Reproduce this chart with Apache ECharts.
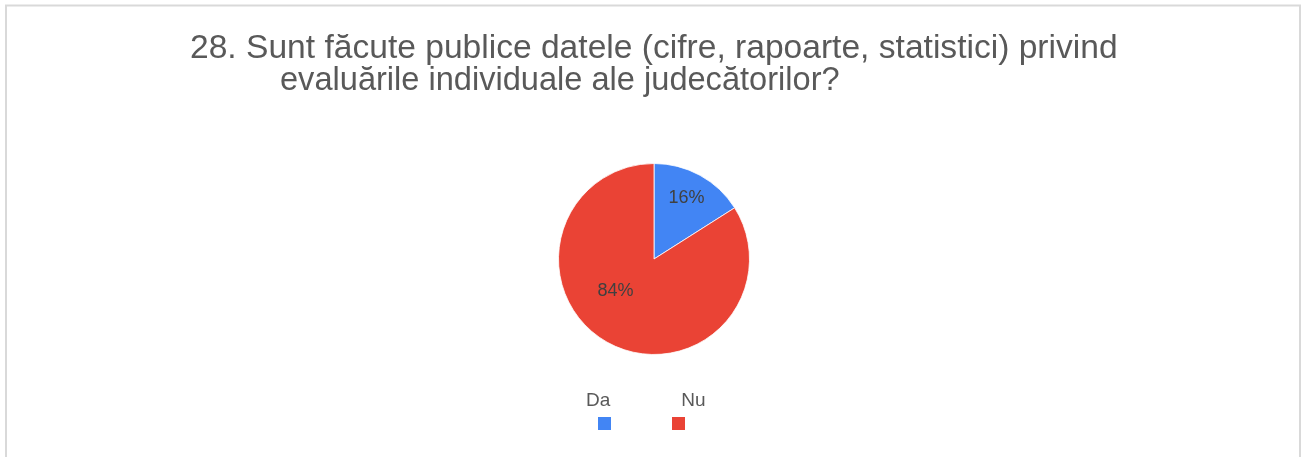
<!DOCTYPE html>
<html>
<head>
<meta charset="utf-8">
<script src="https://cdn.jsdelivr.net/npm/echarts@6/dist/echarts.min.js"></script>
<style>
  html, body { margin: 0; padding: 0; background: #fff; }
  #chart { width: 1301px; height: 457px; }
</style>
</head>
<body>
<div id="chart"></div>
<script>
// Survey answers
const categories = ['Da', 'Nu'];
const shares = [16, 84];
const sliceColors = ['#4285F4', '#EA4335'];
const titleLines = [
  '28. Sunt făcute publice datele (cifre, rapoarte, statistici) privind',
  'evaluările individuale ale judecătorilor?'
];

// small nudges for the in-slice percentage labels
const labelNudge = [[8, -16], [-14, -12]];

const FONT = 'Liberation Sans, Arial, sans-serif';
const chart = echarts.init(document.getElementById('chart'));

chart.setOption({
  animation: false,
  backgroundColor: '#ffffff',
  graphic: [{
    type: 'rect',
    shape: { x: 6, y: 5.5, width: 1294, height: 520 },
    style: { fill: 'none', stroke: '#d9d9d9', lineWidth: 2 },
    silent: true
  }],
  title: [
    {
      text: titleLines[0], left: 185, top: 27,
      textStyle: { fontFamily: FONT, fontSize: 33.6, fontWeight: 'normal', color: '#595959' }
    },
    {
      text: titleLines[1], left: 275, top: 60,
      textStyle: { fontFamily: FONT, fontSize: 32.6, fontWeight: 'normal', color: '#595959' }
    }
  ],
  legend: [
    {
      // colour swatches
      data: categories, left: 593, top: 412,
      itemWidth: 13, itemHeight: 13, itemGap: 61, icon: 'rect',
      itemStyle: { borderWidth: 0 },
      formatter: () => '',
      textStyle: { fontSize: 1 }
    },
    {
      // names above the swatches
      data: categories, left: 574, top: 386,
      itemWidth: 1, itemHeight: 1, itemGap: 64, icon: 'rect',
      itemStyle: { opacity: 0 },
      textStyle: { fontFamily: FONT, fontSize: 19, color: '#595959' }
    }
  ],
  series: [{
    type: 'pie',
    center: [654, 259],
    radius: 95.5,
    startAngle: 90,
    clockwise: true,
    percentPrecision: 0,
    itemStyle: { borderColor: '#ffffff', borderWidth: 0.8 },
    label: {
      position: 'inside',
      formatter: '{d}%',
      fontFamily: FONT, fontSize: 18, color: '#404040'
    },
    labelLayout: (p) => ({ dx: labelNudge[p.dataIndex][0], dy: labelNudge[p.dataIndex][1] }),
    emphasis: { disabled: true },
    data: categories.map((name, i) => ({
      name, value: shares[i], itemStyle: { color: sliceColors[i] }
    }))
  }]
});
</script>
</body>
</html>
